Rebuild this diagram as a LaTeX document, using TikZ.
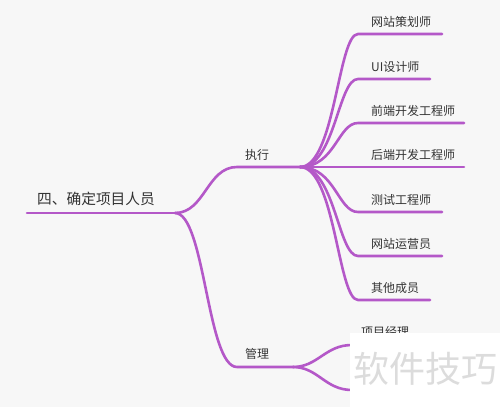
\documentclass[tikz,border=0pt]{standalone}
\usepackage{fontspec}
\setmainfont{Noto Sans CJK SC}
\definecolor{bg}{HTML}{F7F7F7}
\definecolor{branch}{RGB}{180,88,200}
\definecolor{txt}{HTML}{333333}
\definecolor{wm}{RGB}{220,220,220}
\begin{document}
\begin{tikzpicture}[x=1pt,y=-1pt,
  link/.style={draw=branch,line width=2.6pt,line cap=round},
  lbl/.style={text=txt,font=\fontsize{12}{14}\selectfont,anchor=west,inner sep=0pt},
  rootlbl/.style={text=txt,font=\fontsize{14.7}{17}\selectfont,anchor=west,inner sep=0pt},
]
\fill[bg] (0,0) rectangle (500,407);
\useasboundingbox (0,0) rectangle (500,407);

% joints
\coordinate (r0) at (27,213);
\coordinate (rj) at (175,213);
\coordinate (e0) at (237,167);
\coordinate (ej) at (300,167);
\coordinate (m0) at (237,367);
\coordinate (mj) at (293,367);

% root and main branches
\node[rootlbl] (root) at (37,199) {四、确定项目人员};
\draw[link] (r0) -- (rj);
\draw[link] (rj) .. controls (205,213) and (207,167) .. (e0) -- (ej);
\draw[link] (rj) .. controls (205,213) and (207,367) .. (m0) -- (mj);
\node[lbl] (exec) at (245,155) {执行};
\node[lbl] (mgmt) at (245,354) {管理};

% children of 执行
\foreach \i/\y/\e/\t in {1/34/442/网站策划师, 2/79/430/UI设计师, 3/123/464/前端开发工程师, 4/167/464/后端开发工程师, 5/212/442/测试工程师, 6/256/442/网站运营员, 7/300/430/其他成员}{
  \coordinate (cs\i) at (358,\y);
  \coordinate (ce\i) at (\e,\y);
  \draw[link] (ej) .. controls (335,167) and (338,\y) .. (cs\i) -- (ce\i);
  \node[lbl] (ct\i) at (371,\y-12) {\t};
}

% children of 管理
\coordinate (ms1) at (352,345);
\coordinate (me1) at (420,345);
\coordinate (ms2) at (352,390);
\coordinate (me2) at (420,390);
\draw[link] (mj) .. controls (318,367) and (325,345) .. (ms1) -- (me1);
\draw[link] (mj) .. controls (318,367) and (325,390) .. (ms2) -- (me2);
\node[lbl] (pm) at (361,332) {项目经理};

% watermark
\fill[white] (350,333) rectangle (500,407);
\node[text=wm,font=\fontsize{36}{40}\selectfont,inner sep=0pt] (wmark) at (425,369) {软件技巧};
\end{tikzpicture}
\end{document}
